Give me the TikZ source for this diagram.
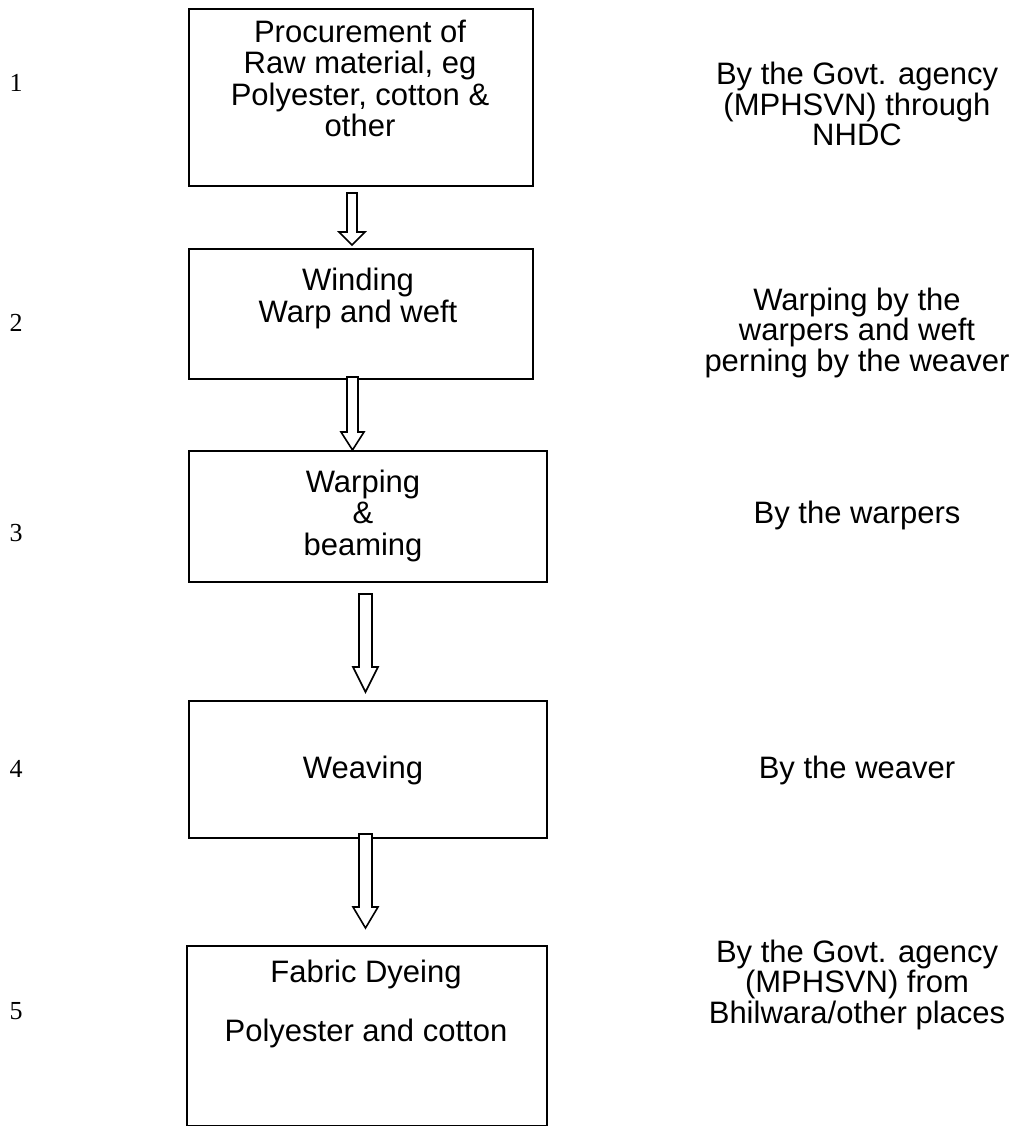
\documentclass[tikz,border=0pt]{standalone}
\usepackage{fontspec}
\setmainfont{Liberation Sans}
\newfontfamily\numfont{Liberation Serif}
\begin{document}
\begin{tikzpicture}[x=1pt,y=-1pt,
  stage/.style={draw=black,line width=1.8pt,inner sep=0pt,anchor=north west},
  % multi-line texts are anchored at the baseline of their last line
  label/.style={font=\fontsize{31}{31.5}\selectfont,align=center,anchor=base,inner sep=0pt},
  side/.style={font=\fontsize{31}{30.5}\selectfont,align=center,anchor=base,inner sep=0pt},
  num/.style={font=\numfont\fontsize{26}{30}\selectfont,anchor=base,inner sep=0pt},
  blockarrow/.style={draw=black,line width=1.6pt,fill=white,line join=miter}]
\useasboundingbox (0,0) rectangle (1017,1126);

% process boxes
\node[stage,minimum width=344pt,minimum height=177pt] (b1) at (188,8) {};
\node[stage,minimum width=344pt,minimum height=130pt] (b2) at (188,248) {};
\node[stage,minimum width=358pt,minimum height=131pt] (b3) at (188,450) {};
\node[stage,minimum width=358pt,minimum height=137pt] (b4) at (188,700) {};
\node[stage,minimum width=360pt,minimum height=180pt] (b5) at (186,945) {};

% hollow block arrows between stages
\draw[blockarrow] (347,193) -- (357,193) -- (357,232) -- (365,232) -- (352,245)
  -- (339,232) -- (347,232) -- cycle;
\draw[blockarrow] (347,377) -- (358,377) -- (358,432) -- (364,432) -- (352.5,450)
  -- (341,432) -- (347,432) -- cycle;
\draw[blockarrow] (359,594) -- (372,594) -- (372,667) -- (378,667) -- (365.5,692)
  -- (353,667) -- (359,667) -- cycle;
\draw[blockarrow] (359,834) -- (372,834) -- (372,907) -- (378,907) -- (365.5,928)
  -- (353,907) -- (359,907) -- cycle;

% box texts
\node[label] (t1) at (360,137) {Procurement of\\Raw material, eg\\Polyester, cotton \&\\other};
\node[label] (t2) at (358,322) {Winding\\Warp and weft};
\node[label] (t3) at (363,555) {Warping\\\&\\beaming};
\node[label] (t4) at (363,778) {Weaving};
\node[label] (t5a) at (366,982) {Fabric Dyeing};
\node[label] (t5b) at (366,1041) {Polyester and cotton};

% step numbers
\node[num] (n1) at (16,92) {1};
\node[num] (n2) at (16,331) {2};
\node[num] (n3) at (16,541) {3};
\node[num] (n4) at (16,777) {4};
\node[num] (n5) at (16,1019) {5};

% who performs each step
\node[side] (s1) at (857,146) {By the Govt. agency\\(MPHSVN) through\\NHDC};
\node[side] (s2) at (857,371) {Warping by the\\warpers and weft\\perning by the weaver};
\node[side] (s3) at (857,523) {By the warpers};
\node[side] (s4) at (857,778) {By the weaver};
\node[side] (s5) at (857,1023) {By the Govt. agency\\(MPHSVN) from\\Bhilwara/other places};
\end{tikzpicture}
\end{document}
